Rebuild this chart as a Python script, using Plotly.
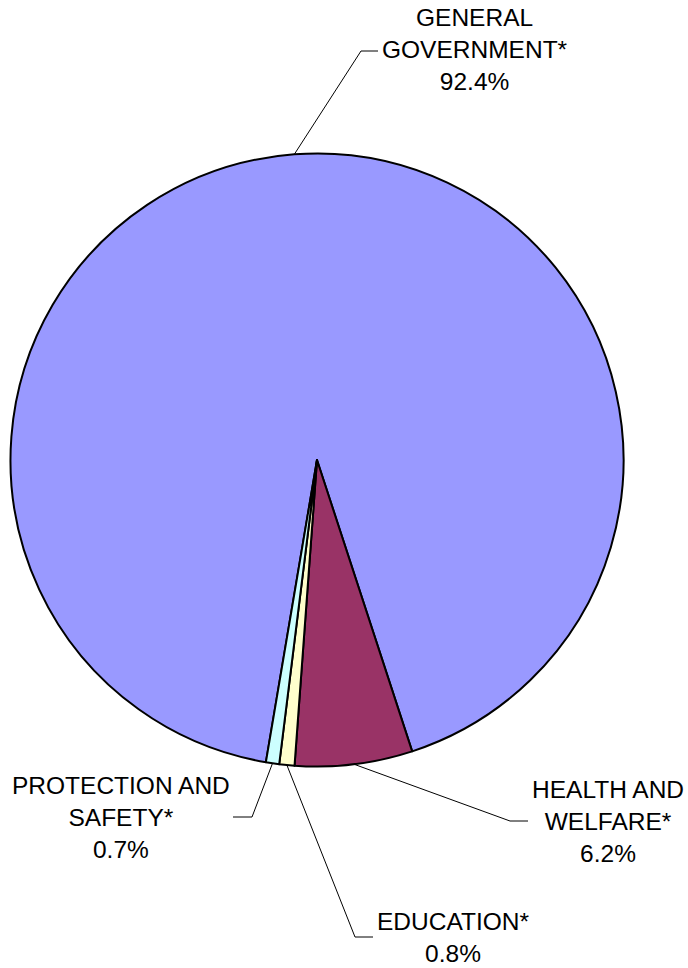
import math
import plotly.graph_objects as go

labels = ["GENERAL<br>GOVERNMENT*", "HEALTH AND<br>WELFARE*", "EDUCATION*", "PROTECTION AND<br>SAFETY*"]
shares = [92.4, 6.2, 0.8, 0.7]
colors = ["#9999FF", "#993366", "#FFFFCC", "#CCFFFF"]

W, H = 688, 968
CX, CY, R = 317, 460, 306.5     # pie centre / radius in pixels
ROTATION = 189.6                # where the first slice starts, clockwise from 12 o'clock

# leader line elbow + end, text anchor (pixels)
LABEL_POS = [
    dict(elbow=(361, 51), end=(378, 51), text=(380, 50), xanchor="left"),
    dict(elbow=(510, 821), end=(528, 821), text=(530, 821), xanchor="left"),
    dict(elbow=(355, 937), end=(373, 937), text=(375, 937), xanchor="left"),
    dict(elbow=(252, 817), end=(233, 817), text=(232, 817), xanchor="right"),
]


def px(x, y):
    return x / W, 1 - y / H


fig = go.Figure()
fig.add_trace(go.Pie(
    labels=labels, values=shares,
    sort=False, direction="clockwise", rotation=ROTATION,
    marker=dict(colors=colors, line=dict(color="black", width=2)),
    textinfo="none", hoverinfo="skip", showlegend=False,
    domain=dict(x=[(CX - R) / W, (CX + R) / W], y=[1 - (CY + R) / H, 1 - (CY - R) / H]),
))

total = sum(shares)
cum = 0
shapes, annotations = [], []
for lab, v, pos in zip(labels, shares, LABEL_POS):
    mid = math.radians(ROTATION + 360 * (cum + v / 2) / total)
    cum += v
    sx, sy = CX + R * math.sin(mid), CY - R * math.cos(mid)
    p0, p1, p2 = px(sx, sy), px(*pos["elbow"]), px(*pos["end"])
    shapes.append(dict(
        type="path", xref="paper", yref="paper",
        path=f"M {p0[0]},{p0[1]} L {p1[0]},{p1[1]} L {p2[0]},{p2[1]}",
        line=dict(color="black", width=1),
    ))
    tx, ty = px(*pos["text"])
    annotations.append(dict(
        x=tx, y=ty, xref="paper", yref="paper",
        text=f"{lab}<br>{v:.1f}%", showarrow=False,
        xanchor=pos["xanchor"], yanchor="middle", align="center",
        font=dict(family="Liberation Sans, Arial, sans-serif", size=24.5, color="black"),
    ))

fig.update_layout(
    width=W, height=H,
    margin=dict(l=0, r=0, t=0, b=0),
    paper_bgcolor="white", plot_bgcolor="white",
    shapes=shapes, annotations=annotations,
)
# page body has a default 8px margin; drop it so the figure sits at 0,0
fig.write_html(
    "out.html",
    config={"displayModeBar": False},
    post_script="document.body.style.margin='0';document.body.style.overflow='hidden';",
)
